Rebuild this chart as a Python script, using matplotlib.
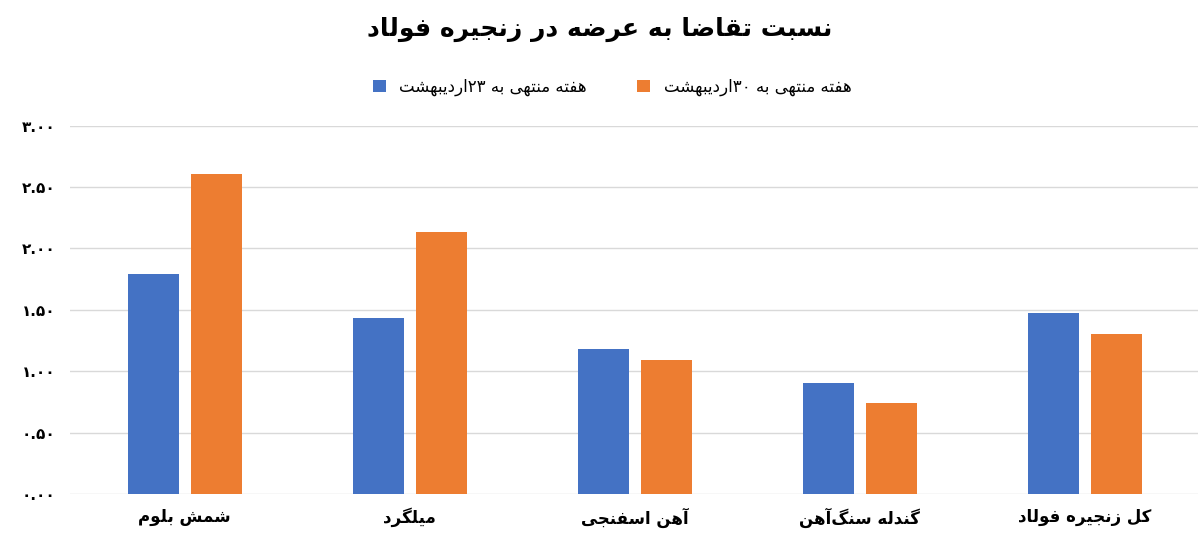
import re
import numpy as np
import matplotlib
matplotlib.use("Agg")
import matplotlib.pyplot as plt

categories = ["شمش بلوم", "میلگرد", "آهن اسفنجی", "گندله سنگ‌آهن", "کل زنجیره فولاد"]
week23 = [1.79, 1.43, 1.18, 0.90, 1.47]
week30 = [2.61, 2.13, 1.09, 0.74, 1.30]
series_names = ["هفته منتهی به ۲۳اردیبهشت", "هفته منتهی به ۳۰اردیبهشت"]
title = "نسبت تقاضا به عرضه در زنجیره فولاد"
yticks = [0, 0.5, 1.0, 1.5, 2.0, 2.5, 3.0]
ytick_labels = ["۰.۰۰", "۰.۵۰", "۱.۰۰", "۱.۵۰", "۲.۰۰", "۲.۵۰", "۳.۰۰"]

# minimal Persian shaping: (isolated, final, initial, medial)
F = {
    'ا': (0xFE8D, 0xFE8E, None, None), 'آ': (0xFE81, 0xFE82, None, None),
    'ب': (0xFE8F, 0xFE90, 0xFE91, 0xFE92), 'ت': (0xFE95, 0xFE96, 0xFE97, 0xFE98),
    'ج': (0xFE9D, 0xFE9E, 0xFE9F, 0xFEA0), 'د': (0xFEA9, 0xFEAA, None, None),
    'ر': (0xFEAD, 0xFEAE, None, None), 'ز': (0xFEAF, 0xFEB0, None, None),
    'س': (0xFEB1, 0xFEB2, 0xFEB3, 0xFEB4), 'ش': (0xFEB5, 0xFEB6, 0xFEB7, 0xFEB8),
    'ض': (0xFEBD, 0xFEBE, 0xFEBF, 0xFEC0), 'ع': (0xFEC9, 0xFECA, 0xFECB, 0xFECC),
    'ف': (0xFED1, 0xFED2, 0xFED3, 0xFED4), 'ق': (0xFED5, 0xFED6, 0xFED7, 0xFED8),
    'ل': (0xFEDD, 0xFEDE, 0xFEDF, 0xFEE0), 'م': (0xFEE1, 0xFEE2, 0xFEE3, 0xFEE4),
    'ن': (0xFEE5, 0xFEE6, 0xFEE7, 0xFEE8), 'ه': (0xFEE9, 0xFEEA, 0xFEEB, 0xFEEC),
    'و': (0xFEED, 0xFEEE, None, None), 'ی': (0xFBFC, 0xFBFD, 0xFBFE, 0xFBFF),
    'گ': (0xFB92, 0xFB93, 0xFB94, 0xFB95), 'ک': (0xFB8E, 0xFB8F, 0xFB90, 0xFB91),
}

def fa(s):
    out = []
    n = len(s)
    for i, c in enumerate(s):
        if c not in F:
            out.append('' if c == '\u200c' else c)
            continue
        prev = s[i-1] if i > 0 else ''
        nxt = s[i+1] if i + 1 < n else ''
        jp = prev in F and F[prev][2] is not None
        jn = nxt in F and F[c][2] is not None
        f = F[c]
        if jp and jn: code = f[3]
        elif jp: code = f[1]
        elif jn: code = f[2]
        else: code = f[0]
        out.append(chr(code))
    r = ''.join(out)[::-1]
    return re.sub(r'[۰-۹0-9.]+', lambda m: m.group(0)[::-1], r)

plt.rcParams['font.family'] = ['DejaVu Sans']
fig = plt.figure(figsize=(12, 5.44), dpi=100)
ax = fig.add_axes([0.058, 0.092, 0.94, 0.677])
x = np.arange(len(categories))
w = 0.227
b23 = ax.bar(x - 0.14, week23, w, color='#4472C4', label=fa(series_names[0]))
b30 = ax.bar(x + 0.14, week30, w, color='#ED7D31', label=fa(series_names[1]))
ax.set_xticks(x)
ax.set_xticklabels([fa(c) for c in categories], fontsize=12, fontweight='bold')
ax.set_yticks(yticks)
ax.set_yticklabels([fa(t) for t in ytick_labels], fontsize=11, fontweight='bold')
ax.set_ylim(0, 3.0)
ax.set_xlim(-0.511, 4.502)
ax.grid(axis='y', color='#D9D9D9', linewidth=1)
ax.set_axisbelow(True)
for s in ax.spines.values():
    s.set_visible(False)
ax.tick_params(length=0, pad=10)
fig.text(0.5, 0.945, fa(title), ha='center', va='center', fontsize=18, fontweight='bold')
fig.legend([b23, b30], [fa(series_names[0]), fa(series_names[1])],
           loc='center', bbox_to_anchor=(0.51, 0.84), ncol=2, frameon=False,
           fontsize=12, handlelength=0.8, handleheight=0.8, columnspacing=3)
fig.savefig('out.png', dpi=100)
